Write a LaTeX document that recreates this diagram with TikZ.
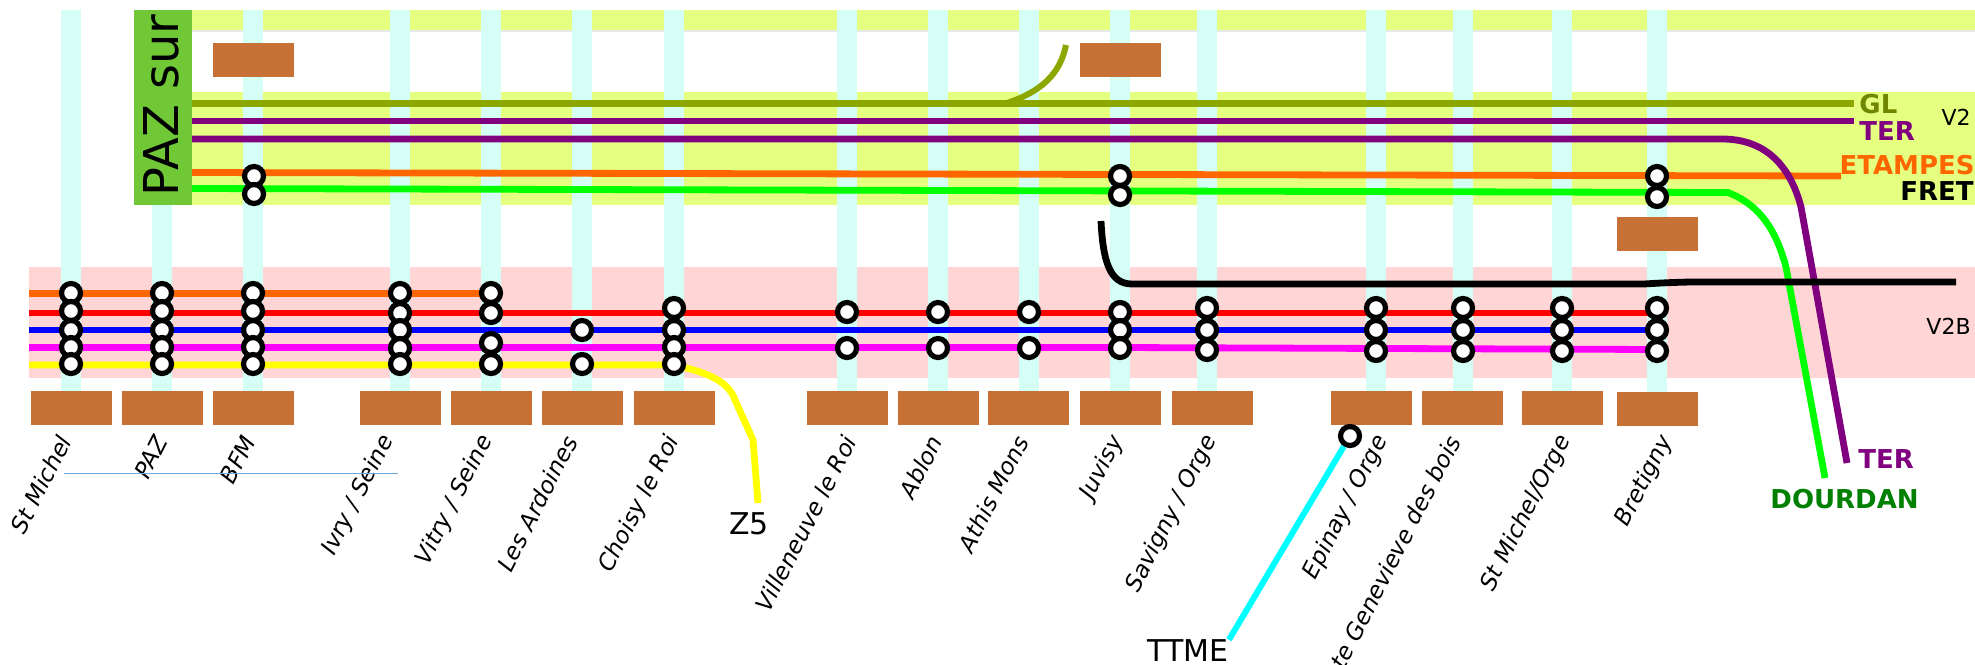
\documentclass[tikz,border=0pt]{standalone}
\usepackage{fontspec}
\setmainfont{DejaVu Sans}
\definecolor{bandyellow}{HTML}{E5FF80}
\definecolor{bandpink}{HTML}{FFD5D5}
\definecolor{polecyan}{HTML}{D5FFF6}
\definecolor{quaibrown}{HTML}{C87137}
\definecolor{pazgreen}{HTML}{71C837}
\definecolor{glolive}{HTML}{8CA800}
\definecolor{tropurple}{HTML}{800080}
\definecolor{etaorange}{HTML}{FF6600}
\definecolor{lnmagenta}{HTML}{FF00FF}
\definecolor{lnyellow}{HTML}{FFFF00}
\definecolor{lncyan}{HTML}{00FFFF}
\definecolor{lnrule}{HTML}{6FA8DC}
\tikzset{
  pole/.style={line width=10pt,polecyan},
  track/.style={line width=3.4pt},
  halt/.style={circle,draw=black,fill=white,line width=2.6pt,minimum size=9.5pt,inner sep=0pt},
  quai/.style={fill=quaibrown,draw=none,minimum width=40.5pt,minimum height=17pt,inner sep=0pt},
  gare/.style={rotate=63,anchor=east,inner sep=0pt,font=\itshape\fontsize{11.6}{11.6}\selectfont},
  tag/.style={inner sep=0pt,font=\bfseries\fontsize{13}{13}\selectfont},
  voie/.style={inner sep=0pt,font=\fontsize{11}{11}\selectfont},
  big/.style={inner sep=0pt,font=\fontsize{15}{15}\selectfont}
}
\begin{document}
\begin{tikzpicture}[x=0.5pt,y=-0.5pt]
\useasboundingbox (0,0) rectangle (1975,664);
% bands
\fill[gray!18] (192,30) rectangle (1975,32);
\fill[bandyellow] (192,10) rectangle (1975,30);
\fill[bandyellow] (192,92) rectangle (1975,205);
\fill[bandpink] (29,267) rectangle (1975,378);
% poles
\draw[pole] (71,10)--(71,392);
\draw[pole] (162,205)--(162,392);
\draw[pole] (253,10)--(253,392);
\draw[pole] (400,10)--(400,392);
\draw[pole] (491,10)--(491,392);
\draw[pole] (582,10)--(582,392);
\draw[pole] (674,10)--(674,392);
\draw[pole] (847,10)--(847,392);
\draw[pole] (938,10)--(938,392);
\draw[pole] (1029,10)--(1029,392);
\draw[pole] (1120,10)--(1120,392);
\draw[pole] (1207,10)--(1207,392);
\draw[pole] (1376,10)--(1376,392);
\draw[pole] (1463,10)--(1463,392);
\draw[pole] (1562,10)--(1562,392);
\draw[pole] (1657,10)--(1657,392);
% PAZ block
\node[fill=pazgreen,minimum width=29pt,minimum height=97.5pt,inner sep=0pt] (pazbox) at (163,107.5) {};
\begin{scope}
\clip (134,10) rectangle (192,205);
\node[rotate=90,anchor=base west,inner sep=0pt,font=\fontsize{24}{24}\selectfont] (pazsur) at (178,197) {PAZ sur};
\end{scope}
% quais
\node[quai] (qb1) at (253,60) {};
\node[quai] (qj1) at (1120,60) {};
\node[quai] (qr1) at (1657,233.5) {};
\node[quai] (q1) at (71.5,407.5) {};
\node[quai] (q2) at (162.5,407.5) {};
\node[quai] (q3) at (253.5,407.5) {};
\node[quai] (q4) at (400.5,407.5) {};
\node[quai] (q5) at (491.5,407.5) {};
\node[quai] (q6) at (582.5,407.5) {};
\node[quai] (q7) at (674,407.5) {};
\node[quai] (q8) at (847,407.5) {};
\node[quai] (q9) at (938.5,407.5) {};
\node[quai] (q10) at (1028.5,407.5) {};
\node[quai] (q11) at (1120,407.5) {};
\node[quai] (q12) at (1212,407.5) {};
\node[quai] (q13) at (1371.5,407.5) {};
\node[quai] (q14) at (1462.5,407.5) {};
\node[quai] (q15) at (1562.5,407.5) {};
\node[quai] (q16) at (1657.5,409) {};
% labels
\node[tag,glolive!80!black,anchor=west] (gl) at (1859,104) {GL};
\node[tag,tropurple,anchor=west] (ter) at (1859,131) {TER};
\node[tag,etaorange,anchor=east] (etampes) at (1975,165.5) {ETAMPES};
\node[tag,anchor=east] (fret) at (1974,191) {FRET};
\node[voie,anchor=east] (vtwo) at (1971,117) {V2};
\node[voie,anchor=east] (vtwob) at (1971,326) {V2B};
\node[tag,tropurple,anchor=west] (terb) at (1858,459) {TER};
\node[tag,green!50!black,anchor=west] (dourdan) at (1770,499) {DOURDAN};
\node[big,anchor=west] (zfive) at (729,524) {Z5};
\node[big,anchor=east] (ttme) at (1229,651) {TTME};
% free ends
\coordinate (glw) at (192,103.5);
\coordinate (gle) at (1854,103.5);
\coordinate (terw) at (192,121);
\coordinate (tere) at (1854,121);
\coordinate (tdw) at (192,139);
\coordinate (tde) at (1847,463);
\coordinate (etw) at (192,172.5);
\coordinate (ete) at (1841,176);
\coordinate (frw) at (192,188.5);
\coordinate (fre) at (1825,478);
\coordinate (blk) at (1101,221);
\coordinate (blke) at (1956,282);
\coordinate (glb) at (1007,103);
\coordinate (glt) at (1066,45);
\coordinate (zw) at (29,365);
\coordinate (ze) at (758,503);
\coordinate (orw) at (29,293.5);
\coordinate (rdw) at (29,313);
\coordinate (blw) at (29,330);
\coordinate (mgw) at (29,347.5);
% tracks
\draw[track,glolive] (glw)--(gle);
\draw[track,glolive,line width=3pt] (glb) .. controls (1040,92) and (1060,75) .. (glt);
\draw[track,tropurple] (terw)--(tere);
\draw[track,etaorange] (etw)--(ete);
\draw[track,green] (frw)--(1728,192.5) .. controls (1760,205) and (1776,230) .. (1786,267)--(fre);
\draw[track,tropurple] (tdw)--(1722,139) .. controls (1765,139) and (1790,165) .. (1801,207)--(tde);
\draw[track,black] (blk) .. controls (1103,262) and (1110,284) .. (1132,284)--(1644,284) .. controls (1660,283) and (1680,282) .. (1696,282)--(blke);
\draw[track,etaorange] (orw)--(491,293.5);
\draw[track,red] (rdw)--(1657,313);
\draw[track,blue] (blw)--(1657,330);
\draw[track,lnmagenta] (mgw)--(1120,347.5)--(1657,349.5);
\draw[track,lnyellow] (zw)--(674,365) .. controls (705,372) and (728,380) .. (735,400)--(753,440)--(ze);
% halts
\node[halt] (a1) at (71,293) {};
\node[halt] (a2) at (71,311) {};
\node[halt] (a3) at (71,330) {};
\node[halt] (a4) at (71,347) {};
\node[halt] (a5) at (71,364) {};
\node[halt] (b1) at (162,293) {};
\node[halt] (b2) at (162,311) {};
\node[halt] (b3) at (162,330) {};
\node[halt] (b4) at (162,347) {};
\node[halt] (b5) at (162,364) {};
\node[halt] (c6) at (254,176) {};
\node[halt] (c7) at (254,194) {};
\node[halt] (c1) at (253,293) {};
\node[halt] (c2) at (253,311) {};
\node[halt] (c3) at (253,330) {};
\node[halt] (c4) at (253,347) {};
\node[halt] (c5) at (253,364) {};
\node[halt] (d1) at (400,293) {};
\node[halt] (d2) at (400,313) {};
\node[halt] (d3) at (400,330) {};
\node[halt] (d4) at (400,348) {};
\node[halt] (d5) at (400,364) {};
\node[halt] (e1) at (491,293) {};
\node[halt] (e2) at (491,313) {};
\node[halt] (e4) at (491,343) {};
\node[halt] (e5) at (491,364) {};
\node[halt] (f3) at (582,330) {};
\node[halt] (f5) at (582,364) {};
\node[halt] (g2) at (674,308) {};
\node[halt] (g3) at (674,330) {};
\node[halt] (g4) at (674,347) {};
\node[halt] (g5) at (674,364) {};
\node[halt] (h2) at (847,312) {};
\node[halt] (h4) at (847,348) {};
\node[halt] (i2) at (938,312) {};
\node[halt] (i4) at (938,348) {};
\node[halt] (j2) at (1029,312) {};
\node[halt] (j4) at (1029,348) {};
\node[halt] (k6) at (1120,176) {};
\node[halt] (k7) at (1120,195) {};
\node[halt] (k2) at (1120,312) {};
\node[halt] (k3) at (1120,330) {};
\node[halt] (k4) at (1120,348) {};
\node[halt] (l2) at (1207,308) {};
\node[halt] (l3) at (1207,330) {};
\node[halt] (l4) at (1207,350) {};
\node[halt] (m2) at (1376,308) {};
\node[halt] (m3) at (1376,330) {};
\node[halt] (m4) at (1376,351) {};
\node[halt] (n2) at (1463,308) {};
\node[halt] (n3) at (1463,330) {};
\node[halt] (n4) at (1463,351) {};
\node[halt] (o2) at (1562,308) {};
\node[halt] (o3) at (1562,330) {};
\node[halt] (o4) at (1562,351) {};
\node[halt] (p6) at (1657,176) {};
\node[halt] (p7) at (1657,197) {};
\node[halt] (p2) at (1657,308) {};
\node[halt] (p3) at (1657,330) {};
\node[halt] (p4) at (1657,351) {};
% TTME
\node[halt] (ttmeh) at (1350,436) {};
\draw[track,lncyan,line width=3pt] (ttmeh)--(ttme.north east);
% station names
\node[gare] (s1) at (65,437) {St Michel};
\node[gare] (s2) at (161,437) {PAZ};
\node[gare] (s3) at (249,437) {BFM};
\node[gare] (s4) at (388,437) {Ivry / Seine};
\node[gare] (s5) at (487,437) {Vitry / Seine};
\node[gare] (s6) at (571,437) {Les Ardoines};
\node[gare] (s7) at (674,437) {Choisy le Roi};
\node[gare] (s8) at (850,437) {Villeneuve le Roi};
\node[gare] (s9) at (936,437) {Ablon};
\node[gare] (s10) at (1022,437) {Athis Mons};
\node[gare] (s11) at (1118,437) {Juvisy};
\node[gare] (s12) at (1211,437) {Savigny / Orge};
\node[gare] (s13) at (1382,437) {Epinay / Orge};
\node[gare] (s14) at (1454,437) {Sainte Genevieve des bois};
\node[gare] (s15) at (1565,437) {St Michel/Orge};
\node[gare] (s16) at (1667,437) {Bretigny};
\coordinate (rulew) at (64,473);
\coordinate (rulee) at (398,473);
\draw[line width=0.5pt,lnrule] (rulew)--(rulee);
\end{tikzpicture}
\end{document}
